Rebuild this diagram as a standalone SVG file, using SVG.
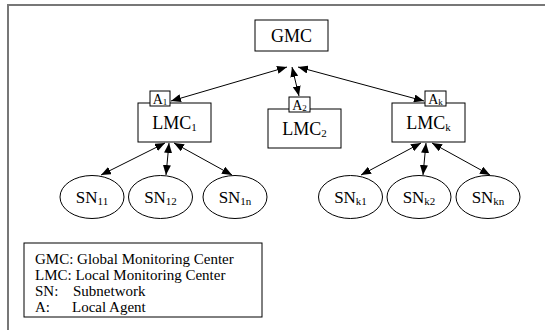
<svg xmlns="http://www.w3.org/2000/svg" width="545" height="330" viewBox="0 0 545 330">
<defs>
<marker id="ah" viewBox="0 0 10 8" refX="10" refY="4" markerWidth="10" markerHeight="8" markerUnits="userSpaceOnUse" orient="auto-start-reverse">
<path d="M0,0 L10,4 L0,8 Z" fill="#000"/>
</marker>
<style>
.bx{fill:#fff;stroke:#000;stroke-width:1}
.t{font-family:"Liberation Serif","Times New Roman",serif;fill:#000}
.n{font-size:18px;text-anchor:middle}
.e{font-size:17px;text-anchor:middle}
.a{font-size:14px;text-anchor:middle}
.s{font-size:11px}
.sa{font-size:9px}
.lg{font-size:15px}
.c{stroke:#000;stroke-width:1;fill:none;marker-start:url(#ah);marker-end:url(#ah)}
</style>
</defs>
<rect width="545" height="330" fill="#fff"/>
<path d="M8,330 V5 H545" fill="none" stroke="#777" stroke-width="2"/>
<g id="connectors">
<line class="c" x1="287" y1="67" x2="171" y2="101"/>
<line class="c" x1="292" y1="67" x2="299" y2="96"/>
<line class="c" x1="298" y1="67" x2="424" y2="101"/>
<line class="c" x1="165" y1="143" x2="101" y2="175"/>
<line class="c" x1="169" y1="143" x2="166" y2="175"/>
<line class="c" x1="174" y1="143" x2="232" y2="175"/>
<line class="c" x1="421" y1="143" x2="361" y2="175"/>
<line class="c" x1="426" y1="143" x2="423" y2="175"/>
<line class="c" x1="432" y1="143" x2="490" y2="175"/>
</g>
<g id="GMC">
<rect class="bx" x="255" y="20" width="73" height="31"/>
<text class="t n" x="291.5" y="42">GMC</text>
</g>
<g id="LMC1">
<rect class="bx" x="138" y="103" width="73" height="39"/>
<text class="t n" x="174.5" y="129">LMC<tspan class="s" dy="2">1</tspan></text>
</g>
<g id="A1">
<rect class="bx" x="150" y="91" width="20" height="15"/>
<text class="t a" x="160" y="103.5">A<tspan class="sa" dy="1">1</tspan></text>
</g>
<g id="LMC2">
<rect class="bx" x="268" y="109" width="73" height="39"/>
<text class="t n" x="304.5" y="135">LMC<tspan class="s" dy="2">2</tspan></text>
</g>
<g id="A2">
<rect class="bx" x="289" y="97" width="21" height="15"/>
<text class="t a" x="299.5" y="109.5">A<tspan class="sa" dy="1">2</tspan></text>
</g>
<g id="LMCk">
<rect class="bx" x="392" y="103" width="73" height="39"/>
<text class="t n" x="428.5" y="129">LMC<tspan class="s" dy="2">k</tspan></text>
</g>
<g id="Ak">
<rect class="bx" x="425" y="91" width="21" height="15"/>
<text class="t a" x="435.5" y="103.5">A<tspan class="sa" dy="1">k</tspan></text>
</g>
<g id="SN11"><ellipse class="bx" cx="92" cy="197" rx="32" ry="21.5"/><text class="t e" x="92" y="203">SN<tspan class="s" dy="2">11</tspan></text></g>
<g id="SN12"><ellipse class="bx" cx="160.5" cy="197" rx="32" ry="21.5"/><text class="t e" x="160.5" y="203">SN<tspan class="s" dy="2">12</tspan></text></g>
<g id="SN1n"><ellipse class="bx" cx="235" cy="197" rx="32" ry="21.5"/><text class="t e" x="235" y="203">SN<tspan class="s" dy="2">1n</tspan></text></g>
<g id="SNk1"><ellipse class="bx" cx="350.5" cy="197" rx="32" ry="21.5"/><text class="t e" x="350.5" y="203">SN<tspan class="s" dy="2">k1</tspan></text></g>
<g id="SNk2"><ellipse class="bx" cx="419" cy="197" rx="32" ry="21.5"/><text class="t e" x="419" y="203">SN<tspan class="s" dy="2">k2</tspan></text></g>
<g id="SNkn"><ellipse class="bx" cx="488" cy="197" rx="32" ry="21.5"/><text class="t e" x="488" y="203">SN<tspan class="s" dy="2">kn</tspan></text></g>
<g id="legend">
<rect class="bx" x="24" y="243" width="238" height="74"/>
<text class="t lg" x="35" y="264">GMC: Global Monitoring Center</text>
<text class="t lg" x="35" y="280">LMC: Local Monitoring Center</text>
<text class="t lg" x="35" y="296">SN:</text>
<text class="t lg" x="73" y="296">Subnetwork</text>
<text class="t lg" x="35" y="312">A:</text>
<text class="t lg" x="72" y="312">Local Agent</text>
</g>
</svg>
